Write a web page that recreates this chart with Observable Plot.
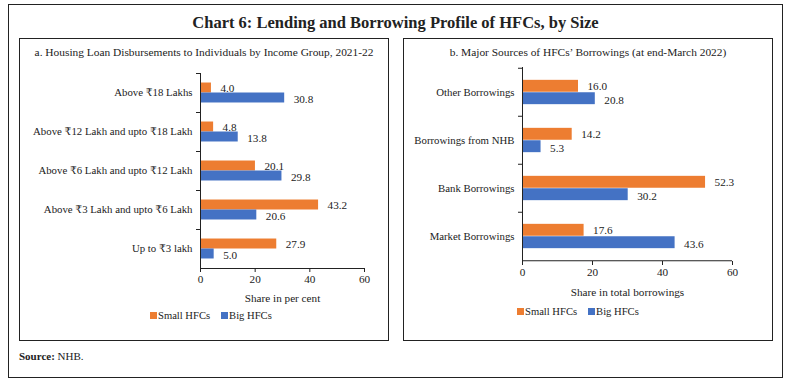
<!DOCTYPE html>
<html>
<head>
<meta charset="utf-8">
<script src="https://cdn.jsdelivr.net/npm/d3@7"></script>
<script src="https://cdn.jsdelivr.net/npm/@observablehq/plot@0.6"></script>
<style>
  body { margin: 0; background: #fff; font-family: "Liberation Serif", "DejaVu Serif", serif; color: #222; }
  #page { position: relative; width: 792px; height: 385px; }
  .box { position: absolute; border: 1px solid #222; box-sizing: border-box; }
  .abs { position: absolute; white-space: nowrap; }
  .legend { position: absolute; font-size: 10.6px; display: flex; align-items: center; }
  .legend span.sw { display: inline-block; width: 7px; height: 7px; margin-right: 1px; }
  .legend span.lab { margin-right: 11px; }
</style>
</head>
<body>
<div id="page"></div>
<script>
// ---- data ----
const categoriesA = ["Above ₹18 Lakhs", "Above ₹12 Lakh and upto ₹18 Lakh", "Above ₹6 Lakh and upto ₹12 Lakh", "Above ₹3 Lakh and upto ₹6 Lakh", "Up to ₹3 lakh"];
const smallA = [4.0, 4.8, 20.1, 43.2, 27.9];
const bigA = [30.8, 13.8, 29.8, 20.6, 5.0];
const categoriesB = ["Other Borrowings", "Borrowings from NHB", "Bank Borrowings", "Market Borrowings"];
const smallB = [16.0, 14.2, 52.3, 17.6];
const bigB = [20.8, 5.3, 30.2, 43.6];
const seriesNames = ["Small HFCs", "Big HFCs"];
const xTicks = [0, 20, 40, 60];
const colors = ["#ED7D31", "#4472C4"];

const page = document.getElementById("page");
function add(html, cls, style) {
  const d = document.createElement("div");
  d.className = cls;
  d.innerHTML = html;
  Object.assign(d.style, style);
  page.appendChild(d);
  return d;
}

// outer frame and title
add("", "box", {left: "8px", top: "4px", width: "775px", height: "374px", borderWidth: "1.5px"});
add("Chart 6: Lending and Borrowing Profile of HFCs, by Size", "abs",
  {left: "8px", width: "775px", top: "13px", textAlign: "center", fontWeight: "bold", fontSize: "16.5px"});
add("<b>Source:</b> NHB.", "abs", {left: "19px", top: "350px", fontSize: "11px"});

function panel({left, title, categories, small, big, svgTop, marginLeft, marginRight, marginTop, plotH, marginBottom, label, labelOffset, legendLeft, legendTop}) {
  add("", "box", {left: left + "px", top: "38px", width: "370px", height: "303px"});
  add(title, "abs", {left: left + "px", width: "370px", top: "46px", textAlign: "center", fontSize: "11.4px"});
  const width = 370;
  const height = marginTop + plotH + marginBottom;
  const bw = plotH / categories.length;
  const h = bw * 0.256;
  const rows = categories.flatMap((c, i) => [
    {cat: c, series: seriesNames[0], value: small[i]},
    {cat: c, series: seriesNames[1], value: big[i]}
  ]);
  const s = rows.filter(d => d.series === seriesNames[0]);
  const b = rows.filter(d => d.series === seriesNames[1]);
  const xmax = d3.max(xTicks);
  const chart = Plot.plot({
    width, height, marginLeft, marginRight, marginTop, marginBottom,
    style: {fontFamily: "Liberation Serif, DejaVu Serif, serif", fontSize: "11px", color: "#222", background: "transparent", overflow: "visible"},
    x: {domain: [0, xmax]},
    y: {domain: categories, padding: 0},
    marks: [
      Plot.barX(s, {x: "value", y: "cat", fill: colors[0], insetTop: bw / 2 - h, insetBottom: bw / 2}),
      Plot.barX(b, {x: "value", y: "cat", fill: colors[1], insetTop: bw / 2, insetBottom: bw / 2 - h}),
      Plot.text(s, {x: "value", y: "cat", text: d => d.value.toFixed(1), dx: 9, dy: -h / 2, textAnchor: "start", fontSize: 11.2, fill: "#222"}),
      Plot.text(b, {x: "value", y: "cat", text: d => d.value.toFixed(1), dx: 9, dy: h / 2 + 1.5, textAnchor: "start", fontSize: 11.2, fill: "#222"}),
      Plot.ruleX([0], {stroke: "#222"}),
      Plot.ruleY(categories, {y: d => d, dy: -bw / 2, x1: 0, x2: 0, insetLeft: -4, stroke: "#222"}),
      Plot.ruleY(categories.slice(-1), {y: d => d, dy: bw / 2, x1: 0, x2: xmax, stroke: "#222"}),
      Plot.axisY({tickSize: 0, tickPadding: 8, label: null, fontSize: 10.8}),
      Plot.axisX({ticks: xTicks, tickSize: 4, tickPadding: 3, fontSize: 11.2, label, labelAnchor: "center", labelOffset, labelArrow: "none"})
    ]
  });
  chart.style.position = "absolute";
  chart.style.left = left + "px";
  chart.style.top = svgTop + "px";
  page.appendChild(chart);
  const lg = add("", "legend", {left: legendLeft + "px", top: legendTop + "px"});
  seriesNames.forEach((n, i) => {
    lg.innerHTML += `<span class="sw" style="background:${colors[i]}"></span><span class="lab">${n}</span>`;
  });
}

panel({left: 19, title: "a. Housing Loan Disbursements to Individuals by Income Group, 2021-22",
  categories: categoriesA, small: smallA, big: bigA,
  svgTop: 60, marginLeft: 181, marginRight: 25, marginTop: 13, plotH: 195, marginBottom: 45,
  label: "Share in per cent", labelOffset: 33, legendLeft: 150, legendTop: 310});

panel({left: 403, title: "b. Major Sources of HFCs’ Borrowings (at end-March 2022)",
  categories: categoriesB, small: smallB, big: bigB,
  svgTop: 60, marginLeft: 119, marginRight: 41, marginTop: 7, plotH: 194, marginBottom: 45,
  label: "Share in total borrowings", labelOffset: 34, legendLeft: 517, legendTop: 306});
</script>
</body>
</html>
